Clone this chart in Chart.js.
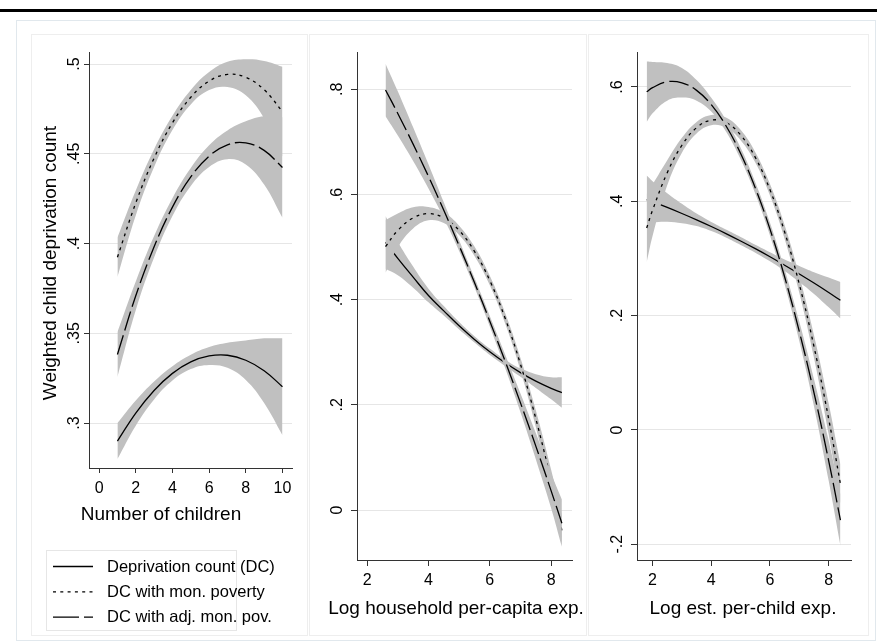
<!DOCTYPE html>
<html>
<head>
<meta charset="utf-8">
<script src="https://cdn.jsdelivr.net/npm/chart.js@4.4.1/dist/chart.umd.min.js"></script>
<style>
  body { margin: 0; background: #fff; }
  #wrap { position: relative; width: 877px; height: 641px; overflow: hidden; }
  #wrap canvas { position: absolute; left: 0; top: 0; }
  .rule { position: absolute; left: 0; top: 9px; width: 877px; height: 3px; background: #000; }
  .frame { position: absolute; box-sizing: border-box; }
</style>
</head>
<body>
<div id="wrap">
  <div class="rule"></div>
  <div class="frame" style="left:16px;top:20px;width:860px;height:621px;border:1px solid #e1e8ed;"></div>
  <div class="frame" style="left:31px;top:34px;width:277px;height:602px;border:1px solid #eeeeee;"></div>
  <div class="frame" style="left:309px;top:34px;width:278px;height:602px;border:1px solid #eeeeee;"></div>
  <div class="frame" style="left:588px;top:34px;width:281px;height:602px;border:1px solid #eeeeee;"></div>
  <canvas id="c1" width="877" height="641"></canvas>
  <canvas id="c2" width="877" height="641"></canvas>
  <canvas id="c3" width="877" height="641"></canvas>
</div>
<script>
// series names (legend)
const seriesNames = ['Deprivation count (DC)', 'DC with mon. poverty', 'DC with adj. mon. pov.']

// panel 1: number of children
const kids = [1, 2, 3, 4, 5, 6, 7, 8, 9, 10]
const dcKids = [0.290, 0.3056, 0.3182, 0.3277, 0.3341, 0.3374, 0.3378, 0.3350, 0.3292, 0.3203]
const dcKidsCi = [0.010, 0.007, 0.005, 0.004, 0.004, 0.005, 0.007, 0.011, 0.018, 0.027]
const monKids = [0.3924, 0.4226, 0.4476, 0.4672, 0.4815, 0.4905, 0.4942, 0.4926, 0.4857, 0.4735]
const monKidsCi = [0.011, 0.007, 0.005, 0.004, 0.004, 0.005, 0.007, 0.010, 0.016, 0.025]
const adjKids = [0.3382, 0.3709, 0.3982, 0.4203, 0.4371, 0.4487, 0.4550, 0.4561, 0.4519, 0.4424]
const adjKidsCi = [0.0125, 0.008, 0.006, 0.005, 0.005, 0.006, 0.008, 0.012, 0.019, 0.028]

// panel 2: log household per-capita exp.
const hhExp = [2.6, 3, 3.5, 4, 4.5, 5, 5.5, 6, 6.5, 7, 7.5, 8, 8.35]
const dcHh = [0.509, 0.4786, 0.4429, 0.408, 0.3788, 0.3504, 0.3245, 0.301, 0.280, 0.2614, 0.2452, 0.2315, 0.2234]
const dcHhCi = [0.05, 0.032, 0.02, 0.013, 0.009, 0.007, 0.006, 0.006, 0.006, 0.008, 0.013, 0.021, 0.029]
const monHh = [0.5011, 0.5317, 0.5556, 0.5636, 0.5556, 0.5318, 0.492, 0.4364, 0.3648, 0.2773, 0.1739, 0.0545, -0.0385]
const monHhCi = [0.05, 0.032, 0.02, 0.0125, 0.01, 0.009, 0.009, 0.009, 0.01, 0.012, 0.016, 0.022, 0.028]
const adjHh = [0.7988, 0.7542, 0.6958, 0.6345, 0.5701, 0.5028, 0.4325, 0.3592, 0.283, 0.2038, 0.1216, 0.0364, -0.025]
const adjHhCi = [0.05, 0.042, 0.032, 0.023, 0.015, 0.01, 0.009, 0.01, 0.013, 0.018, 0.025, 0.033, 0.045]

// panel 3: log est. per-child exp.
const childExp = [1.8, 2, 2.5, 3, 3.5, 4, 4.5, 5, 5.5, 6, 6.5, 7, 7.5, 8, 8.4]
const dcChild = [0.403, 0.3992, 0.3893, 0.3787, 0.3676, 0.3559, 0.3436, 0.3306, 0.3171, 0.303, 0.2882, 0.2729, 0.257, 0.2405, 0.2268]
const dcChildCi = [0.042, 0.036, 0.025, 0.017, 0.011, 0.008, 0.007, 0.007, 0.007, 0.008, 0.01, 0.014, 0.019, 0.026, 0.032]
const monChild = [0.3534, 0.3845, 0.45, 0.4981, 0.5288, 0.542, 0.5377, 0.516, 0.4768, 0.4202, 0.3462, 0.2547, 0.1457, 0.0193, -0.0944]
const monChildCi = [0.06, 0.045, 0.022, 0.013, 0.01, 0.009, 0.009, 0.009, 0.009, 0.01, 0.012, 0.015, 0.02, 0.027, 0.034]
const adjChild = [0.5916, 0.5989, 0.6091, 0.6074, 0.5941, 0.569, 0.5322, 0.4836, 0.4234, 0.3513, 0.2676, 0.1721, 0.0649, -0.054, -0.1576]
const adjChildCi = [0.053, 0.045, 0.033, 0.026, 0.018, 0.012, 0.01, 0.01, 0.01, 0.011, 0.013, 0.017, 0.024, 0.035, 0.045]

// ticks
const xTicks1 = [0, 2, 4, 6, 8, 10]
const yTicks1 = [0.3, 0.35, 0.4, 0.45, 0.5]
const yLabels1 = ['.3', '.35', '.4', '.45', '.5']
const xTicks2 = [2, 4, 6, 8]
const yTicks2 = [0, 0.2, 0.4, 0.6, 0.8]
const yLabels2 = ['0', '.2', '.4', '.6', '.8']
const xTicks3 = [2, 4, 6, 8]
const yTicks3 = [-0.2, 0, 0.2, 0.4, 0.6]
const yLabels3 = ['-.2', '0', '.2', '.4', '.6']

const FONT = '"Liberation Sans", Arial, sans-serif'
const AXIS = '#333333'
const BAND = '#c0c0c0'
const dashes = [[], [3, 4.3], [20, 5]]
const legendDashes = [[], [3, 4.3], [26, 5]]

// draws tick labels, axis titles and the legend (Stata style, rotated y labels)
const decor = {
  id: 'decor',
  afterDraw(chart, args, o) {
    const ctx = chart.ctx
    const xs = chart.scales.x, ys = chart.scales.y
    ctx.save()
    ctx.fillStyle = '#000'
    ctx.textAlign = 'center'
    ctx.textBaseline = 'alphabetic'
    ctx.font = '16px ' + FONT
    o.xTicks.forEach(v => ctx.fillText(String(v), xs.getPixelForValue(v), o.xLabelY))
    o.yTicks.forEach((v, i) => {
      ctx.save()
      ctx.translate(o.yLabelX, ys.getPixelForValue(v))
      ctx.rotate(-Math.PI / 2)
      ctx.fillText(o.yLabels[i], 0, 0)
      ctx.restore()
    })
    ctx.font = '19px ' + FONT
    ctx.fillText(o.xTitle, o.xTitleX, o.xTitleY)
    if (o.yTitle) {
      ctx.save()
      ctx.translate(o.yTitleX, o.yTitleY)
      ctx.rotate(-Math.PI / 2)
      ctx.fillText(o.yTitle, 0, 0)
      ctx.restore()
    }
    if (o.legend) {
      ctx.strokeStyle = '#e6e6e6'
      ctx.lineWidth = 1
      ctx.strokeRect(46.5, 550.5, 190, 80)
      ctx.font = '16.5px ' + FONT
      ctx.textAlign = 'left'
      seriesNames.forEach((name, i) => {
        const y = 566.5 + i * 25.3
        ctx.beginPath()
        ctx.setLineDash(legendDashes[i])
        ctx.strokeStyle = '#000'
        ctx.lineWidth = 1.3
        ctx.moveTo(53, y)
        ctx.lineTo(93, y)
        ctx.stroke()
        ctx.setLineDash([])
        ctx.fillText(name, 107, y + 5)
      })
    }
    ctx.restore()
  }
}

function makePanel(id, area, xr, yr, xTicks, yTicks, tl, series, deco) {
  const datasets = []
  series.forEach((s, k) => {
    datasets.push({
      data: s.x.map((x, i) => ({ x: x, y: s.y[i] - s.ci[i] })),
      borderColor: 'rgba(0,0,0,0)', borderWidth: 0, fill: false
    })
    datasets.push({
      data: s.x.map((x, i) => ({ x: x, y: s.y[i] + s.ci[i] })),
      borderColor: 'rgba(0,0,0,0)', borderWidth: 0, fill: '-1', backgroundColor: BAND
    })
    datasets.push({
      label: seriesNames[k],
      data: s.x.map((x, i) => ({ x: x, y: s.y[i] })),
      borderColor: '#000', borderWidth: 1.3, borderDash: dashes[k], fill: false
    })
  })
  // later series drawn on top, like Stata overlays
  datasets.forEach((d, i) => {
    d.order = datasets.length - i
    d.pointRadius = 0
    d.tension = 0.4
  })

  new Chart(document.getElementById(id), {
    type: 'line',
    data: { datasets },
    plugins: [decor],
    options: {
      responsive: false,
      animation: false,
      devicePixelRatio: 1,
      layout: {
        padding: { left: area.left - 20, right: 877 - area.right, top: area.top, bottom: 641 - area.bottom - 20 }
      },
      plugins: {
        legend: { display: false },
        tooltip: { enabled: false },
        decor: deco
      },
      scales: {
        x: {
          type: 'linear', min: xr[0], max: xr[1],
          afterBuildTicks: s => { s.ticks = xTicks.map(v => ({ value: v })) },
          afterFit: s => { s.height = 20 },
          ticks: { display: false },
          grid: { drawOnChartArea: false, drawTicks: true, tickLength: tl, tickColor: AXIS },
          border: { color: AXIS, width: 1 }
        },
        y: {
          type: 'linear', min: yr[0], max: yr[1],
          afterBuildTicks: s => { s.ticks = yTicks.map(v => ({ value: v })) },
          afterFit: s => { s.width = 20 },
          ticks: { display: false },
          grid: { color: '#e6e6e6', lineWidth: 1, drawTicks: true, tickLength: tl, tickColor: AXIS },
          border: { color: AXIS, width: 1 }
        }
      }
    }
  })
}

makePanel('c1', { left: 89, right: 292, top: 52, bottom: 468 }, [-0.55, 10.52], [0.275, 0.5067],
  xTicks1, yTicks1, 5,
  [{ x: kids, y: dcKids, ci: dcKidsCi }, { x: kids, y: monKids, ci: monKidsCi }, { x: kids, y: adjKids, ci: adjKidsCi }],
  { xTicks: xTicks1, yTicks: yTicks1, yLabels: yLabels1, xLabelY: 493, yLabelX: 79,
    xTitle: 'Number of children', xTitleX: 161, xTitleY: 520,
    yTitle: 'Weighted child deprivation count', yTitleX: 56, yTitleY: 263, legend: true })

makePanel('c2', { left: 357, right: 572, top: 52, bottom: 560 }, [1.67, 8.68], [-0.095, 0.871],
  xTicks2, yTicks2, 6,
  [{ x: hhExp, y: dcHh, ci: dcHhCi }, { x: hhExp, y: monHh, ci: monHhCi }, { x: hhExp, y: adjHh, ci: adjHhCi }],
  { xTicks: xTicks2, yTicks: yTicks2, yLabels: yLabels2, xLabelY: 585, yLabelX: 342,
    xTitle: 'Log household per-capita exp.', xTitleX: 456, xTitleY: 614 })

makePanel('c3', { left: 637, right: 851, top: 52, bottom: 560 }, [1.47, 8.76], [-0.2275, 0.6612],
  xTicks3, yTicks3, 6,
  [{ x: childExp, y: dcChild, ci: dcChildCi }, { x: childExp, y: monChild, ci: monChildCi }, { x: childExp, y: adjChild, ci: adjChildCi }],
  { xTicks: xTicks3, yTicks: yTicks3, yLabels: yLabels3, xLabelY: 585, yLabelX: 622,
    xTitle: 'Log est. per-child exp.', xTitleX: 743, xTitleY: 614 })
</script>
</body>
</html>
